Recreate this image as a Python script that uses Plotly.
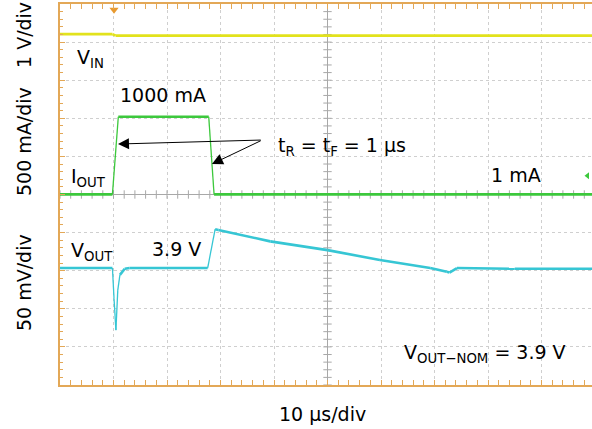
import numpy as np
import plotly.graph_objects as go

# scope screen: 10 x 10 divisions, time in us, traces on their own V or mA scales
T_RANGE = [-50, 49.44]          # right border of the screen falls just off the image
DIV_RANGE = [-5, 5]

# channel 1: VIN, 1 V/div, ground marker at +2.03 div
vin_t = [-50, -40.2, -39.6, 49.5]
vin_v = [2.18, 2.18, 2.14, 2.14]

# channel 4: IOUT, 500 mA/div, ground marker at 0 div
iout_t = [-50, -40.2, -39.1, -22.2, -21.2, 49.5]
iout_ma = [1, 1, 1020, 1020, 1, 1]

# channel 2: VOUT, 50 mV/div, 3.9 V marker at -1.93 div
vout_t = [-50, -40.2, -39.9, -39.55, -39.2, -38.8, -37.9, -37.0, -22.4, -21.0,
          -20.4, -10.7, 0.0, 9.8, 19.2, 22.3, 22.8, 24.2, 35.0, 49.5]
vout_v = [3.900, 3.900, 3.860, 3.8185, 3.871, 3.891, 3.899, 3.900, 3.900, 3.951,
          3.950, 3.935, 3.9235, 3.9105, 3.900, 3.895, 3.894, 3.900, 3.899, 3.899]

trigger_t = -39.9
trig_level_t, trig_level_div = 48.6, 0.49

ORANGE = "#e3a857"
GRID = "#cfcfcf"
CROSS = "#a8a8a8"
YELLOW = "#e2e21c"
GREEN = "#3cc83c"
CYAN = "#36c6d4"
FONT = "DejaVu Sans"

PLOT_W, PLOT_H = 532, 381       # plot area in px (margins below)
PX_PER_US = PLOT_W / (T_RANGE[1] - T_RANGE[0])
PX_PER_DIV = PLOT_H / (DIV_RANGE[1] - DIV_RANGE[0])


def _range(scale, offset_div, ref=0.0):
    """Axis range so that `ref` sits at `offset_div` on a 10-division screen."""
    return [ref + (DIV_RANGE[0] - offset_div) * scale,
            ref + (DIV_RANGE[1] - offset_div) * scale]


def _split_steep(t, v, scale, limit=2.5):
    """Scope edges are drawn thin: split a trace into gentle and steep pieces
    (None breaks) by the on-screen slope of each segment."""
    gentle_t, gentle_v, steep_t, steep_v = [], [], [], []
    for i in range(len(t) - 1):
        dx = (t[i + 1] - t[i]) * PX_PER_US
        dy = abs(v[i + 1] - v[i]) / scale * PX_PER_DIV
        bt, bv = (steep_t, steep_v) if dy > limit * dx else (gentle_t, gentle_v)
        bt += [t[i], t[i + 1], None]
        bv += [v[i], v[i + 1], None]
    return (gentle_t, gentle_v), (steep_t, steep_v)


fig = go.Figure()

# ── centre cross ticks ───────────────────────────────────────────────────────
xt = np.arange(-50, 50.01, 2)
yt = np.arange(-5, 5.01, 0.2)
fig.add_scatter(x=xt, y=[0] * len(xt), mode="markers",
                marker=dict(symbol="line-ns", size=6, line=dict(color=CROSS, width=1)))
fig.add_scatter(x=[0] * len(yt), y=yt, mode="markers",
                marker=dict(symbol="line-ew", size=6, line=dict(color=CROSS, width=1)))

# ── traces ───────────────────────────────────────────────────────────────────
for t, v, scale, axis, color in ((vin_t, vin_v, 1.0, "y2", YELLOW),
                                 (iout_t, iout_ma, 500, "y3", GREEN),
                                 (vout_t, vout_v, 0.05, "y4", CYAN)):
    (gt, gv), (st, sv) = _split_steep(t, v, scale)
    if st:
        fig.add_scatter(x=st, y=sv, yaxis=axis, mode="lines",
                        line=dict(color=color, width=1.3))
    fig.add_scatter(x=gt, y=gv, yaxis=axis, mode="lines",
                    line=dict(color=color, width=2.6))

# ── channel / trigger markers ────────────────────────────────────────────────
fig.add_scatter(x=[-50.5], y=[0], yaxis="y2", mode="markers+text", text=["1"],
                cliponaxis=False, textfont=dict(size=7, color="#555"),
                marker=dict(size=11, color=YELLOW, line=dict(color="#d8d890", width=1)))
fig.add_scatter(x=[-50.5], y=[0], yaxis="y3", mode="markers+text", text=["4"],
                cliponaxis=False, textfont=dict(size=7, color="#1a5a1a"),
                marker=dict(size=11, color=GREEN))
fig.add_scatter(x=[-50.5], y=[3.9], yaxis="y4", mode="markers+text", text=["2"],
                cliponaxis=False, textfont=dict(size=7, color="#1a5a5a"),
                marker=dict(size=11, color=CYAN, line=dict(color="#e0c080", width=1)))
fig.add_scatter(x=[trigger_t], y=[4.85], mode="markers", cliponaxis=False,
                marker=dict(symbol="triangle-down", size=8, color="#e89a30"))
fig.add_scatter(x=[trig_level_t], y=[trig_level_div], mode="markers", cliponaxis=False,
                marker=dict(symbol="triangle-left", size=6, color=GREEN))

fig.update_traces(showlegend=False, hoverinfo="skip")

# ── labels ───────────────────────────────────────────────────────────────────
txt = dict(xref="x", yref="y", showarrow=False, xanchor="left", yanchor="middle",
           font=dict(family=FONT, size=19, color="black"))
labels = [
    (-47.2, 3.57, "V<sub>IN</sub>"),
    (-39.2, 2.60, "1000 mA"),
    (-9.7, 1.27, "t<sub>R</sub> = t<sub>F</sub> = 1 μs"),
    (-48.3, 0.44, "I<sub>OUT</sub>"),
    (30.2, 0.50, "1 mA"),
    (-48.3, -1.50, "V<sub>OUT</sub>"),
    (-33.2, -1.42, "3.9 V"),
    (14.0, -4.16, "V<sub>OUT−NOM</sub> = 3.9 V"),
]
for x, y, s in labels:
    fig.add_annotation(x=x, y=y, text=s, **txt)

fig.add_annotation(x=(322 - 60) / PLOT_W, y=-(414 - 385) / PLOT_H, xref="paper",
                   yref="paper", text="10 μs/div", showarrow=False,
                   xanchor="center", yanchor="middle",
                   font=dict(family=FONT, size=19, color="black"))
for ypx, s in ((35, "1 V/div"), (142, "500 mA/div"), (283, "50 mV/div")):
    fig.add_annotation(x=(24 - 60) / PLOT_W, y=(385 - ypx) / PLOT_H, xref="paper",
                       yref="paper", text=s, showarrow=False, textangle=-90,
                       xanchor="center", yanchor="middle",
                       font=dict(family=FONT, size=19, color="black"))

# arrows for the edge-time callout
arr = dict(xref="x", yref="y", axref="x", ayref="y", showarrow=True, text="",
           arrowhead=2, arrowsize=2.2, arrowwidth=1, arrowcolor="black")
fig.add_annotation(x=-39.16, y=1.325, ax=-12.2, ay=1.43, **arr)
fig.add_annotation(x=-21.6, y=0.80, ax=-12.2, ay=1.43, **arr)

fig.update_layout(
    width=592, height=429,
    margin=dict(l=60, r=0, t=4, b=44),
    plot_bgcolor="white", paper_bgcolor="white",
    xaxis=dict(range=T_RANGE, dtick=10, tick0=0, showticklabels=False,
               showgrid=True, gridcolor=GRID, griddash="dot", gridwidth=1,
               zeroline=True, zerolinecolor=CROSS, zerolinewidth=1,
               showline=True, linecolor=ORANGE, linewidth=2, mirror="allticks",
               ticks="inside", ticklen=5, tickcolor=ORANGE,
               minor=dict(dtick=2, ticks="inside", ticklen=3, tickcolor=ORANGE,
                          showgrid=False)),
    yaxis=dict(range=DIV_RANGE, dtick=1, showticklabels=False,
               showgrid=True, gridcolor=GRID, griddash="dot", gridwidth=1,
               zeroline=True, zerolinecolor=CROSS, zerolinewidth=1,
               showline=True, linecolor=ORANGE, linewidth=2,
               ticks="inside", ticklen=5, tickcolor=ORANGE,
               minor=dict(dtick=0.2, ticks="inside", ticklen=3, tickcolor=ORANGE,
                          showgrid=False)),
    yaxis2=dict(overlaying="y", visible=False, range=_range(1.0, 2.03)),
    yaxis3=dict(overlaying="y", visible=False, range=_range(500, 0.0)),
    yaxis4=dict(overlaying="y", visible=False, range=_range(0.05, -1.93, 3.9)),
)

fig.write_html("out.html", config={"displayModeBar": False},
               post_script="document.body.style.margin = '0';")
